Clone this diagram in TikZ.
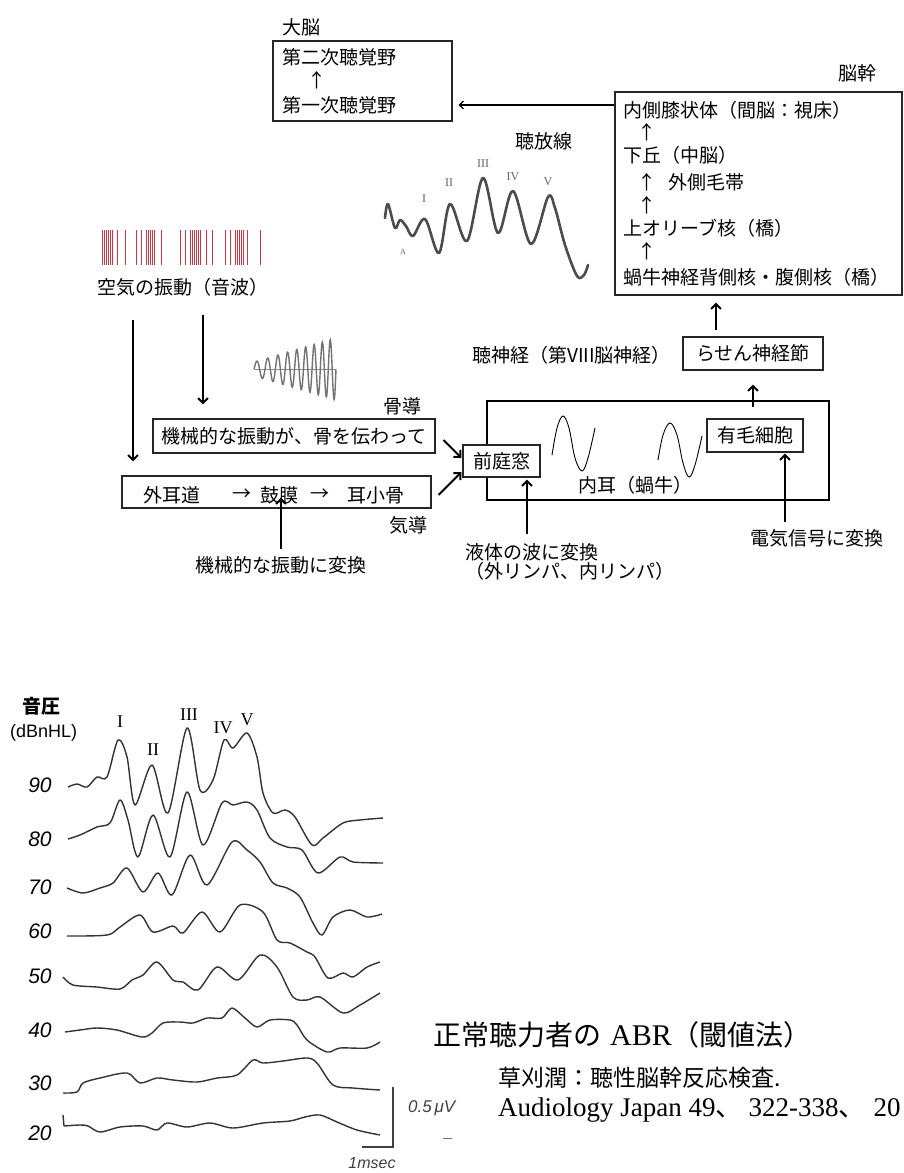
\documentclass[tikz,border=0pt]{standalone}
\usepackage{fontspec}
\setmainfont{Liberation Serif}
\newfontfamily\jp{Noto Sans CJK JP}
\newfontfamily\lsans{Liberation Sans}
\newfontfamily\lserif{Liberation Serif}
\usetikzlibrary{arrows.meta,calc}
\begin{document}
\begin{tikzpicture}[x=1pt,y=-1pt,
  jt/.style={font=\jp\fontsize{19}{20}\selectfont, inner sep=0pt},
  boxn/.style={draw=black!85, line width=1.1pt, inner sep=0pt},
  arr/.style={line width=2pt, -{Straight Barb[length=5pt,width=10pt,line width=2pt]}},
  thinarr/.style={line width=1.3pt, -{Straight Barb[length=4pt,width=8pt,line width=1.3pt]}},
  trace/.style={draw=black!80, line width=1.4pt, line join=round},
  lvl/.style={font=\lsans\itshape\fontsize{21}{21}\selectfont, inner sep=0pt},
  rom/.style={font=\lserif\fontsize{18}{18}\selectfont, inner sep=0pt},
  romsmall/.style={font=\lserif\fontsize{12}{12}\selectfont, inner sep=0pt, text=black!60},
  bar/.style={draw={rgb,255:red,212;green,52;blue,62}, line width=0.9pt}
]
\fill[white] (0,0) rectangle (904,1173);
\useasboundingbox (0,0) rectangle (904,1173);

% ---------- cerebrum ----------
\node[jt,anchor=west] (daino) at (282,27) {大脳};
\node[boxn, minimum width=179pt, minimum height=80pt] (cereb) at (362.5,81) {};
\node[jt,anchor=west] (c2) at (282,57) {第二次聴覚野};
\node[jt] (c21) at (317,80) {↑};
\node[jt,anchor=west] (c1) at (282,105) {第一次聴覚野};

% ---------- brainstem ----------
\node[jt,anchor=west] (noukan) at (838,73) {脳幹};
\node[boxn, minimum width=287pt, minimum height=203pt] (bs) at (758.5,193.5) {};
\node[jt,anchor=west] (mgb) at (623,110) {内側膝状体（間脳：視床）};
\node[jt] (a1) at (647,132) {↑};
\node[jt,anchor=west] (ic) at (623,155) {下丘（中脳）};
\node[jt] (a2) at (647,182) {↑};
\node[jt,anchor=west] (ll) at (668,182) {外側毛帯};
\node[jt] (a3) at (647,205) {↑};
\node[jt,anchor=west] (soc) at (623,228) {上オリーブ核（橋）};
\node[jt] (a4) at (647,251) {↑};
\node[jt,anchor=west] (cn) at (623,277) {蝸牛神経背側核・腹側核（橋）};

\draw[thinarr] (bs.west |- c1) -- ([xshift=6pt]cereb.east |- c1);

% ---------- auditory radiation waveform ----------
\node[jt,anchor=west] (houshasen) at (515,141) {聴放線};
\draw[draw=black!70, line width=2.6pt, line join=round, line cap=round]
  plot[smooth, tension=0.55] coordinates {(385,218) (388,204) (395,228) (400,220) (406,226) (413,236) (425,219) (439,253) (450,204) (467,241) (483,178) (498,233) (513,191) (531,244) (548,197) (555,208) (565,245) (577,276) (584,275) (588,265)};
\node[romsmall] (wI) at (424,199) {I};
\node[romsmall] (wII) at (449,183) {II};
\node[romsmall] (wIII) at (483,164) {III};
\node[romsmall] (wIV) at (513,177) {IV};
\node[romsmall] (wV) at (548,182) {V};
\node[font=\lserif\fontsize{8}{8}\selectfont, inner sep=0pt, text=black!60] (wA) at (403,252) {A};

% ---------- sound wave barcode ----------
\foreach \xb in {102.7,104.7,106.7,108.7,110.7,112.7,117.3,125,136.7,141.7,146,148.2,150.4,152.6,154.8,161.7,180,185,190.7,192.7,194.7,196.7,198.7,200.7,206,212.7,225,230,235,237.2,239.4,241.6,243.8,247.7,260}
  \draw[bar] (\xb,230) -- (\xb,265);
\node[jt,anchor=west] (air) at (97,287) {空気の振動（音波）};

% ---------- chirp ----------
\draw[black!45, line width=0.6pt] (254,369) -- (336,369);
\draw[black!55, line width=1.4pt]
  plot[domain=0:1, samples=260, variable=\t] ({254+82*\t}, {369-(7+24*\t)*sin(360*(7.2*\t+1.8*\t*\t))});

% ---------- outer/middle ear ----------
\node[jt,anchor=east] (kotsudo) at (422,406) {骨導};
\node[boxn, minimum width=282pt, minimum height=34pt, jt] (bone) at (294,436) {機械的な振動が、骨を伝わって};
\node[boxn, minimum width=309pt, minimum height=32pt] (canal) at (276.5,492) {};
\node[jt,anchor=west] (gaiji) at (143,495) {外耳道};
\node[jt] (ar1) at (242,495) {→};
\node[jt,anchor=west] (komaku) at (260,495) {鼓膜};
\node[jt] (ar2) at (320,495) {→};
\node[jt,anchor=west] (jisho) at (347,495) {耳小骨};
\node[jt,anchor=east] (kido) at (428,525) {気導};
\node[jt] (mech) at (281,565) {機械的な振動に変換};

\coordinate (aL) at (133,320);
\coordinate (aR) at (203,315);
\draw[arr] (aL) -- ($(aL |- canal.north)+(0,-14)$);
\draw[arr] (aR) -- ($(aR |- bone.north)+(0,-14)$);
\draw[arr] ([yshift=7pt]mech.north) -- ($(mech.north |- canal.south)+(0,-11)$);

% ---------- inner ear ----------
\node[draw=black, line width=2.5pt, minimum width=342pt, minimum height=99pt, inner sep=0pt] (ear) at (658,450.5) {};
\node[boxn, fill=white, minimum width=77pt, minimum height=32pt, jt] (oval) at (501.5,461) {前庭窓};
\node[boxn, minimum width=96pt, minimum height=33pt, jt] (hair) at (755,435.5) {有毛細胞};
\node[boxn, minimum width=140pt, minimum height=33pt, jt] (spiral) at (753,353.5) {らせん神経節};
\node[jt,anchor=west] (nerve) at (472,355) {聴神経（第VIII脳神経）};
\node[jt] (naiji) at (635,485) {内耳（蝸牛）};
\draw[line width=0.9pt] plot[smooth, tension=0.6] coordinates {(552,455) (557,428) (563,416) (569,428) (575,458) (582,471) (588,458) (595,428)};
\draw[line width=0.9pt] plot[smooth, tension=0.6] coordinates {(658,460) (663,435) (670,423) (677,435) (683,463) (689,477) (695,465) (702,436)};

\draw[arr] ($(bone.east)+(8,4)$) -- ($(oval.west)+(-1,-3)$);
\draw[arr] ($(canal.east)+(7,3)$) -- ($(oval.west)+(-1,11)$);

\node[jt,anchor=west] (fluid1) at (465,552) {液体の波に変換};
\node[jt,anchor=west] (fluid2) at (465,571) {（外リンパ、内リンパ）};
\coordinate (fl) at (527,534);
\draw[arr] (fl) -- ($(fl |- oval.south)+(0,2)$);

\node[jt,anchor=west] (elec) at (750,538) {電気信号に変換};
\coordinate (el) at (785,522);
\draw[arr] (el) -- ($(el |- hair.south)+(0,1)$);

\draw[arr] ($(ear.north -| spiral.south)+(0,7)$) -- ($(spiral.south)+(0,14)$);
\coordinate (sp) at (716,330);
\draw[arr] (sp) -- ($(sp |- bs.south)+(0,7)$);

% ---------- ABR threshold figure ----------
\node[font=\jp\bfseries\fontsize{19}{20}\selectfont, inner sep=0pt, anchor=west] (onatsu) at (22,706) {音圧};
\node[font=\lsans\fontsize{18}{18}\selectfont, inner sep=0pt, anchor=west] (dbnhl) at (10,733) {(dBnHL)};
\node[rom] (pI) at (120,722) {I};
\node[rom] (pII) at (153,750) {II};
\node[rom] (pIII) at (189,715) {III};
\node[rom] (pIV) at (223,728) {IV};
\node[rom] (pV) at (247,720) {V};

\node[lvl] (l90) at (40,785) {90};
\node[lvl] (l80) at (40,839) {80};
\node[lvl] (l70) at (40,887) {70};
\node[lvl] (l60) at (40,931) {60};
\node[lvl] (l50) at (40,976) {50};
\node[lvl] (l40) at (40,1030) {40};
\node[lvl] (l30) at (40,1083) {30};
\node[lvl] (l20) at (40,1133) {20};

\draw[trace] plot[smooth, tension=0.5] coordinates {(68,787) (77,784) (87,787) (97,777) (107,777) (118,740) (127,757) (135,805) (152,765) (168,813) (187,728) (200,790) (213,780) (224,740) (233,748) (247,733) (257,757) (263,793) (273,813) (285,810) (295,817) (312,845) (323,838) (343,823) (360,820) (383,818)};
\draw[trace] plot[smooth, tension=0.5] coordinates {(68,839) (80,835) (97,827) (110,823) (120,800) (128,820) (138,857) (153,815) (170,857) (187,792) (203,845) (222,803) (233,805) (247,802) (257,810) (270,838) (287,847) (302,850) (318,873) (340,857) (353,862) (383,863)};
\draw[trace] plot[smooth, tension=0.5] coordinates {(67,888) (83,893) (100,888) (113,883) (127,868) (143,892) (158,873) (172,895) (190,855) (207,885) (232,842) (247,850) (260,862) (273,883) (287,888) (300,897) (313,923) (322,935) (333,917) (350,910) (367,917) (382,914)};
\draw[trace] plot[smooth, tension=0.5] coordinates {(67,936) (107,935) (120,927) (140,915) (153,932) (173,926) (183,933) (202,912) (220,932) (240,905) (263,912) (277,940) (290,943) (307,952) (315,957) (328,978) (343,973) (353,977) (367,967) (380,962)};
\draw[trace] plot[smooth, tension=0.5] coordinates {(63,977) (73,985) (97,987) (120,989) (132,980) (143,975) (157,962) (173,980) (183,982) (198,990) (217,967) (238,980) (260,955) (277,967) (293,997) (307,1000) (320,997) (343,1013) (360,1005) (380,993)};
\draw[trace] plot[smooth, tension=0.5] coordinates {(65,1032) (80,1030) (97,1028) (117,1030) (142,1037) (152,1033) (163,1023) (180,1022) (193,1023) (207,1018) (222,1018) (232,1008) (245,1018) (257,1027) (270,1020) (290,1020) (297,1025) (307,1040) (327,1052) (340,1048) (367,1048) (380,1042)};
\draw[trace] plot[smooth, tension=0.5] coordinates {(63,1093) (77,1092) (83,1083) (100,1078) (127,1073) (140,1083) (157,1078) (173,1080) (197,1082) (217,1078) (237,1075) (253,1060) (263,1063) (283,1061) (307,1058) (317,1063) (333,1085) (353,1088) (380,1090)};
\draw[trace] (63,1115) -- (64,1126);
\draw[trace] plot[smooth, tension=0.5] coordinates {(64,1126) (80,1125) (88,1126) (100,1132) (120,1127) (143,1126) (157,1130) (167,1123) (187,1127) (210,1123) (233,1128) (263,1123) (290,1121) (305,1117) (320,1115) (337,1122) (357,1130) (380,1135)};

% scale bar
\coordinate (sbtop) at (393,1087);
\coordinate (sbcorner) at (393,1147);
\coordinate (sbleft) at (362,1147);
\draw[black!75, line width=1.2pt] (sbtop) -- (sbcorner) -- (sbleft);
\node[font=\lsans\itshape\fontsize{17}{17}\selectfont, inner sep=0pt, anchor=west, text=black!75] (uv) at (408,1108) {0.5\,μV};
\draw[black!55, line width=1pt] (443,1138) -- (452,1138);
\node[font=\lsans\itshape\fontsize{16}{16}\selectfont, inner sep=0pt, text=black!75] (ms) at (372,1163) {1msec};

% ---------- caption ----------
\node[inner sep=0pt, anchor=west] (title) at (433,1035) {{\jp\fontsize{28}{28}\selectfont 正常聴力者の}\hspace{9pt}{\lserif\fontsize{30}{30}\selectfont ABR}{\jp\fontsize{28}{28}\selectfont （閾値法）}};
\node[jt, font=\jp\fontsize{23}{23}\selectfont, anchor=west] (ref1) at (498,1078) {草刈潤：聴性脳幹反応検査.};
\node[inner sep=0pt, anchor=west] (ref2) at (498,1110) {\lserif\fontsize{27}{27}\selectfont Audiology Japan 49{\jp 、}\hspace{6pt}322-338{\jp 、}\hspace{8pt}20};
\end{tikzpicture}
\end{document}
